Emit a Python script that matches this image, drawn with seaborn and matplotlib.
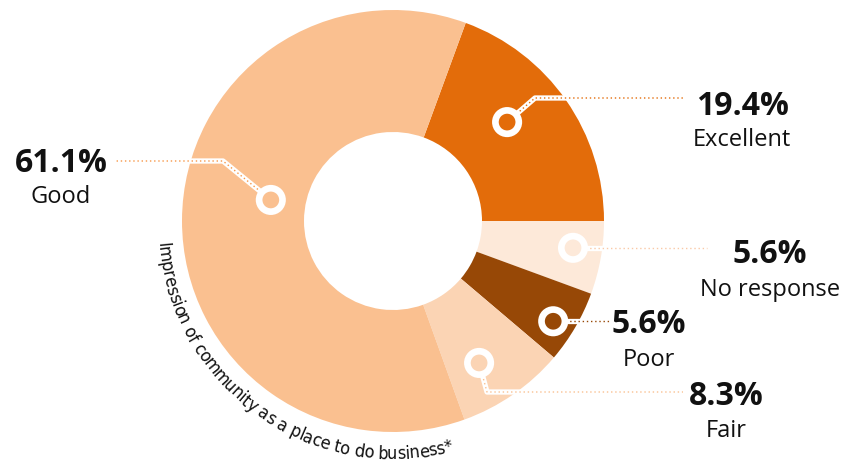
import numpy as np
import matplotlib
matplotlib.use("Agg")
import matplotlib.pyplot as plt
import seaborn as sns
from matplotlib.patches import Circle
from matplotlib import font_manager as fm

# ---------------- data ----------------
categories = ["Excellent", "No response", "Poor", "Fair", "Good"]
values = [19.4, 5.6, 5.6, 8.3, 61.1]
pct_labels = ["19.4%", "5.6%", "5.6%", "8.3%", "61.1%"]
arc_title = "Impression of community as a place to do business*"

# ---------------- style ----------------
slice_colors = ["#E36C0A", "#FDE9D9", "#974806", "#FBD4B4", "#FAC090"]
line_colors = ["#E36C0A", "#FAC9A6", "#974806", "#FAC090", "#F79646"]
marker_angle_offset = [6.0, 1.6, -1.8, -3.5, -9.6]
marker_radius = [151, 182, 189, 166, 124]
# leader path points after the marker (pixel coords, y down); None = keep marker y
leader_paths = [
    [(535, 99), (683, 99)],
    [(707, None)],
    [(610, None)],
    [(487, 393), (683, 393)],
    [(223, 162), (116, 162)],
]
# label anchor (center x, baseline of percent, baseline of name) in pixels
label_pos = [
    (742, 115, 146),
    (770, 263, 296),
    (649, 333, 366),
    (726, 405, 437),
    (61, 172, 203),
]

sns.set_theme(style="white")
plt.rcParams['font.family'] = ['Open Sans', 'DejaVu Sans']

W, H = 855, 464
fig = plt.figure(figsize=(8.55, 4.64), dpi=100)
ax = fig.add_axes([0, 0, 1, 1])


def P(x, y):
    return (x, H - y)


cx, cy = P(393, 222)
R_out, R_in = 211, 89
start = values[0] / sum(values) * 360
wedges, _ = ax.pie(values, colors=slice_colors, startangle=start,
                   counterclock=False, radius=R_out, center=(cx, cy),
                   wedgeprops=dict(width=R_out - R_in, linewidth=0),
                   frame=True)
ax.set_xlim(0, W)
ax.set_ylim(0, H)
ax.set_aspect('equal')
ax.axis('off')

text_color = "#111111"
for i, w in enumerate(wedges):
    mid = (w.theta1 + w.theta2) / 2 + marker_angle_offset[i]
    r = marker_radius[i]
    mx = cx + r * np.cos(np.radians(mid))
    my = cy + r * np.sin(np.radians(mid))
    pts = [(mx, my)]
    for (px, py) in leader_paths[i]:
        if py is None:
            pts.append((px, my))
        else:
            pts.append(P(px, py))
    xs = [p[0] for p in pts]
    ys = [p[1] for p in pts]
    ax.plot(xs, ys, color="white", lw=3.8, solid_capstyle='butt', zorder=3)
    ax.plot(xs, ys, color=line_colors[i], lw=1.0, linestyle=(0, (1, 2)), zorder=4)
    ax.add_patch(Circle((mx, my), 11.7, facecolor=slice_colors[i],
                        edgecolor="white", lw=4.8, zorder=5))
    lx, by1, by2 = label_pos[i]
    ax.text(lx, H - by1, pct_labels[i], ha='center', va='baseline',
            fontsize=23, fontweight='bold', color=text_color, zorder=6)
    ax.text(lx, H - by2, categories[i], ha='center', va='baseline',
            fontsize=17, color=text_color, zorder=6)


# ---------------- curved title ----------------
def pick_narrow_font():
    for stretch, keys in [('extra-condensed', ['extracondensed', 'extra-condensed']),
                          ('condensed', ['condensed', 'narrow'])]:
        for fam in ['Noto Sans', 'Open Sans', 'Roboto', 'Liberation Sans Narrow', 'DejaVu Sans']:
            fp = fm.FontProperties(family=fam, stretch=stretch)
            try:
                path = fm.findfont(fp, fallback_to_default=False)
            except Exception:
                continue
            low = path.lower().replace('_', '')
            if any(k in low for k in keys):
                return fp
    return fm.FontProperties(family='Liberation Sans')


arc_fp = pick_narrow_font()
renderer = fig.canvas.get_renderer()
tracking = 0.97


def char_widths(size):
    fp = arc_fp.copy()
    fp.set_size(size)
    ws = []
    for ch in arc_title:
        if ch == ' ':
            w2, _, _ = renderer.get_text_width_height_descent('a a', fp, ismath=False)
            w1, _, _ = renderer.get_text_width_height_descent('aa', fp, ismath=False)
            ws.append((w2 - w1) * tracking)
        else:
            w, _, _ = renderer.get_text_width_height_descent(ch, fp, ismath=False)
            ws.append(w * tracking)
    return ws


R_txt = 237
a0, a1 = 185.0, 285.0
L = np.radians(a1 - a0) * R_txt
base = 14.0
ws0 = char_widths(base)
size = min(base * L / sum(ws0), 18.5)
ws = char_widths(size)
fp_draw = arc_fp.copy()
fp_draw.set_size(size)
s = 0.0
for ch, w in zip(arc_title, ws):
    c = s + w / 2
    th = a0 + np.degrees(c / R_txt)
    x = cx + R_txt * np.cos(np.radians(th))
    y = cy + R_txt * np.sin(np.radians(th))
    if ch != ' ':
        ax.text(x, y, ch, fontproperties=fp_draw, color=text_color,
                rotation=th + 90, rotation_mode='anchor', ha='center',
                va='baseline', zorder=6)
    s += w

fig.savefig("out.png", dpi=100)
